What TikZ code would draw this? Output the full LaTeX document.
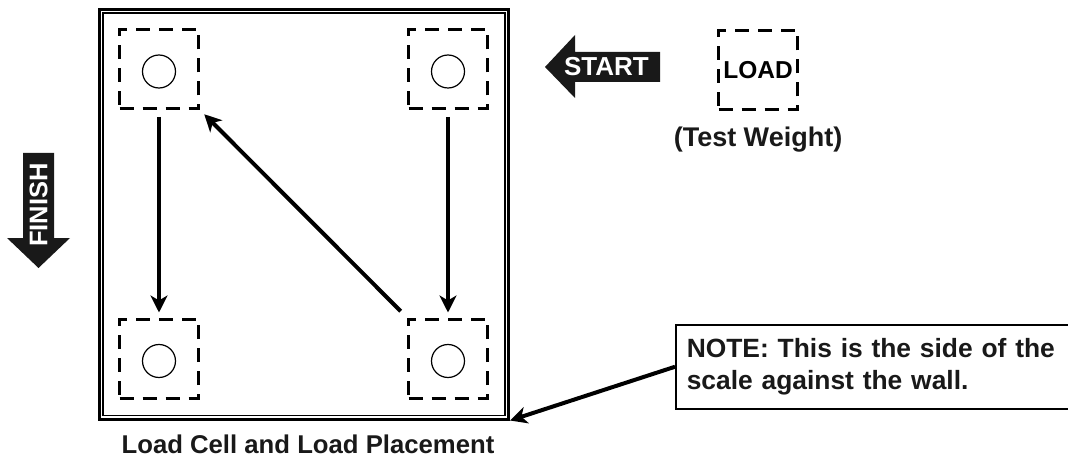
\documentclass[tikz,border=0pt]{standalone}
\usepackage{fontspec}
\setmainfont{Liberation Sans}
\usetikzlibrary{arrows.meta,calc,positioning}

\begin{document}
\begin{tikzpicture}[x=1pt,y=-1pt,>={Stealth[length=17pt,width=17pt,inset=5pt]},
  cell/.style={draw,line width=3pt,dash pattern=on 14pt off 9pt,minimum size=79pt,inner sep=0pt},
  bolt/.style={circle,draw,line width=1.2pt,minimum size=33pt,inner sep=0pt},
  flow/.style={->,line width=4pt},
  blockarrow/.style={fill=black!90},
  label/.style={font=\bfseries\fontsize{26.4}{32}\selectfont,text=black!90}]
  \useasboundingbox (0,0) rectangle (1068,473);
  % platform of the scale
  \node[draw,line width=3pt,minimum width=409pt,minimum height=409.5pt,inner sep=0pt] (scale) at (304,214.25) {};
  \draw[line width=1.8pt] ($(scale.north west)+(5,5)$) rectangle ($(scale.south east)+(-5,-5)$);
  % load cells
  \node[cell] (tl) at (159,69) {};
  \node[cell] (tr) at (448,69) {};
  \node[cell] (bl) at (159,358.5) {};
  \node[cell] (br) at (448,358.5) {};
  \foreach \c in {tl,tr,bl,br}
    \node[bolt] at ([yshift=-2.5pt]\c.center) {};
  \draw[flow,shorten <=7pt,shorten >=5pt] (tr) -- (br);
  \draw[flow,shorten <=9pt,shorten >=6pt] (br.north west) -- (tl.south east);
  \draw[flow,shorten <=7pt,shorten >=5pt] (tl) -- (bl);
  % test weight
  \node[cell,font=\bfseries\fontsize{24.5}{28}\selectfont] (load) at (758,70) {LOAD};
  \node[label,font=\bfseries\fontsize{27}{32}\selectfont,below=12pt of load] (weight) {(Test Weight)};
  % start and finish
  \fill[blockarrow] (545,67) -- (575,35) -- (575,52) -- (660,52) -- (660,82) -- (575,82) -- (575,98) -- cycle;
  \node[text=white,font=\bfseries\fontsize{26}{28}\selectfont] (start) at (606.5,67) {START};
  \fill[blockarrow] (23,153) -- (54,153) -- (54,238) -- (70,238) -- (38.5,268) -- (7,238) -- (23,238) -- cycle;
  \node[text=white,rotate=90,font=\bfseries\fontsize{25.5}{28}\selectfont] (finish) at (38.5,205) {FINISH};
  % note about the wall side
  \node[draw,line width=1.5pt,anchor=north west,label,align=left,text width=420pt,
    minimum height=84pt,inner xsep=11pt] (note) at (675,324) {NOTE: This is the side of the\\scale against the wall.};
  \draw[flow] (note.west) -- (scale.south east);
  \node[label,font=\bfseries\fontsize{25.7}{30}\selectfont] (caption) at (308,444) {Load Cell and Load Placement};
\end{tikzpicture}
\end{document}
